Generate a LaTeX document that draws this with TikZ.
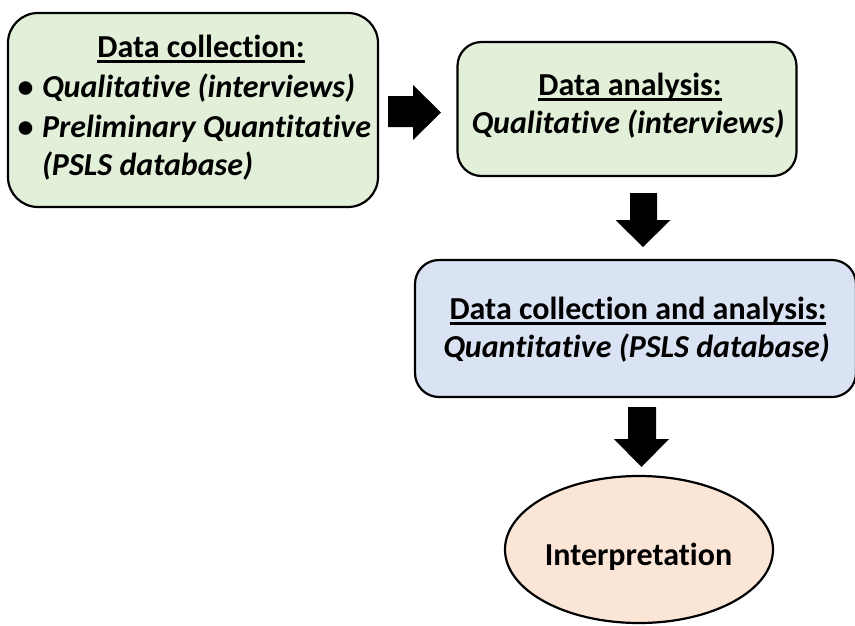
\documentclass[tikz,border=0pt]{standalone}
\usepackage{fontspec}
\setmainfont{Carlito}[RawFeature={-liga;-clig;-dlig}]
\usetikzlibrary{shapes.geometric}
\definecolor{greenfill}{HTML}{E2F0D9}
\definecolor{bluefill}{HTML}{DAE3F3}
\definecolor{peachfill}{HTML}{FBE5D6}
\newcommand\myul[1]{\setbox0\hbox{#1}\rlap{\rule[-5.6pt]{\wd0}{2.2pt}}\box0}
\begin{document}
\begin{tikzpicture}[x=1pt,y=-1pt,
  shapebox/.style={draw=black, line width=2.2pt, inner sep=0pt, outer sep=0pt},
  txt/.style={inner sep=0pt, outer sep=0pt, font=\fontsize{32}{40}\selectfont\bfseries},
  itxt/.style={txt, font=\fontsize{32}{40}\selectfont\bfseries\itshape},
  blockarrow/.style={fill=black}]
\useasboundingbox (0,0) rectangle (855,625);
% shapes
\node[shapebox, fill=greenfill, rounded corners=30pt, minimum width=370pt, minimum height=194pt] (dc) at (193,110) {};
\node[shapebox, fill=greenfill, rounded corners=24pt, minimum width=339pt, minimum height=134pt] (da) at (627,109) {};
\node[shapebox, fill=bluefill, rounded corners=24pt, minimum width=441pt, minimum height=137pt] (dca) at (635.5,328.5) {};
\node[shapebox, fill=peachfill, ellipse, minimum width=268pt, minimum height=147pt] (interp) at (639,549.5) {};
% block arrows
\fill[blockarrow] (388,96) -- (413,96) -- (413,85) -- (441,112.5) -- (413,140) -- (413,127) -- (388,127) -- cycle;
\fill[blockarrow] (630,193) -- (657,193) -- (657,220) -- (670.5,220) -- (643,247) -- (615.5,220) -- (630,220) -- cycle;
\fill[blockarrow] (628,407) -- (656,407) -- (656,439) -- (669,439) -- (641.5,467) -- (614,439) -- (628,439) -- cycle;
% texts
\node[txt, anchor=base] (dct) at (201,57) {\myul{Data collection:}};
\node[txt, anchor=base] (b1) at (25.5,97) {•};
\node[itxt, anchor=base west] (dcq) at (42,97) {Qualitative (interviews)};
\node[txt, anchor=base] (b2) at (25.5,137) {•};
\node[itxt, anchor=base west] (dcp) at (42,137) {Preliminary Quantitative};
\node[itxt, anchor=base west] (dcd) at (42,175) {(PSLS database)};
\node[txt, anchor=base] (dat) at (630,95) {\myul{Data analysis:}};
\node[itxt, anchor=base] (daq) at (628,133) {Qualitative (interviews)};
\node[txt, anchor=base] (dcat) at (638,319) {\myul{Data collection and analysis:}};
\node[itxt, anchor=base] (dcaq) at (636.5,357) {Quantitative (PSLS database)};
\node[txt, anchor=base] (it) at (638.5,565) {Interpretation};
\end{tikzpicture}
\end{document}
